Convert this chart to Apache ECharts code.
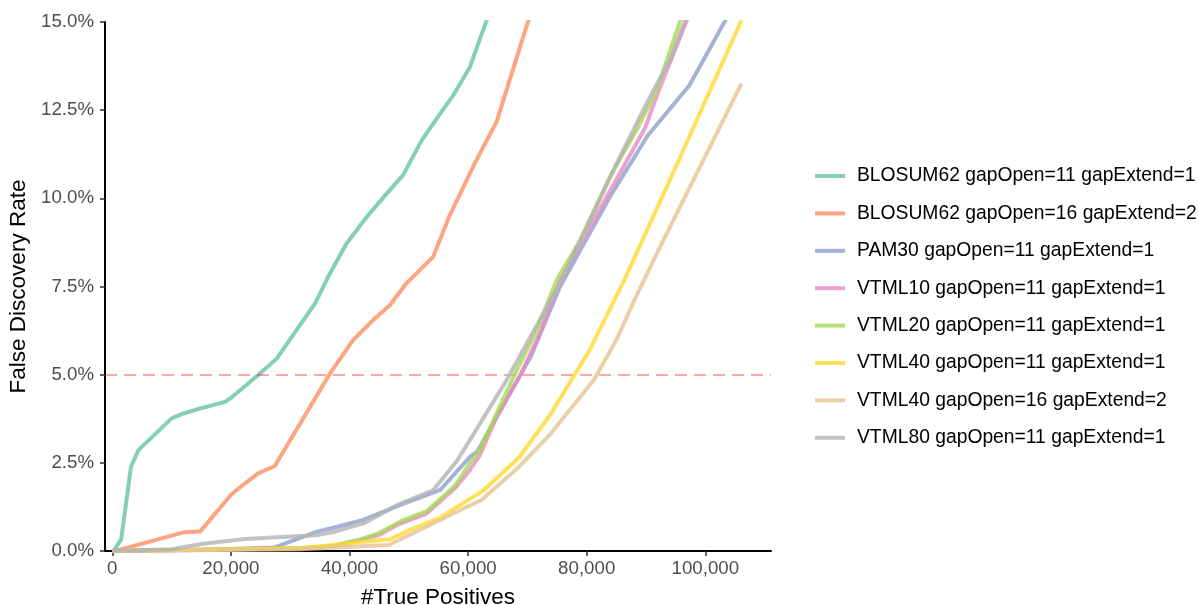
<!DOCTYPE html>
<html>
<head>
<meta charset="utf-8">
<script src="https://cdn.jsdelivr.net/npm/echarts@6/dist/echarts.min.js"></script>
<style>
  html, body { margin: 0; padding: 0; background: #fff; }
  #chart { width: 1199px; height: 605px; }
</style>
</head>
<body>
<div id="chart"></div>
<script>
// False discovery rate (%) against number of true positives, one curve per scoring setup.
// Each point is [true positives, FDR %].
const blosum62_o11_e1 = [[200,0],[1500,0.33],[3150,2.39],[4400,2.86],[10000,3.76],[12000,3.9],[14800,4.04],[19000,4.23],[20100,4.35],[24600,4.99],[27700,5.45],[34200,7.02],[36700,7.87],[39500,8.72],[42900,9.47],[46300,10.14],[49000,10.65],[52200,11.65],[55300,12.4],[57500,12.92],[60300,13.72],[64300,15.6]];
const blosum62_o16_e2 = [[500,0],[12000,0.53],[14800,0.55],[20100,1.61],[22400,1.92],[24600,2.2],[27400,2.41],[36700,5.03],[40600,5.98],[44000,6.55],[46800,6.97],[49600,7.59],[54100,8.34],[56900,9.52],[61400,11.08],[64800,12.17],[71200,15.6]];
const pam30_o11_e1 = [[0,0],[15000,0.03],[27400,0.1],[34500,0.55],[37300,0.66],[42300,0.88],[48500,1.3],[55300,1.73],[60300,2.67],[61500,2.81],[70600,5.52],[75500,7.49],[83900,10.04],[90300,11.78],[97300,13.2],[105200,15.6]];
const vtml10_o11_e1 = [[0,0],[31700,0.08],[37300,0.14],[41800,0.31],[44900,0.45],[48000,0.74],[52900,1.05],[57900,1.8],[60300,2.3],[62000,2.72],[64800,3.8],[68800,4.99],[71600,5.98],[75500,7.68],[89800,11.98],[92400,13.16],[98200,15.6]];
const vtml20_o11_e1 = [[0,0],[31700,0.08],[37300,0.15],[41800,0.33],[44900,0.5],[48500,0.83],[53000,1.13],[57800,1.85],[60300,2.49],[62000,2.86],[64800,3.9],[68200,5.13],[71600,6.26],[74900,7.68],[78900,8.81],[83900,10.61],[88400,11.93],[91800,13.06],[96900,15.6]];
const vtml40_o11_e1 = [[0,0],[31700,0.08],[46800,0.33],[50200,0.6],[55300,0.95],[62600,1.72],[68600,2.65],[73800,3.85],[80500,5.7],[86400,7.7],[95400,11.03],[106100,15.05]];
const vtml40_o16_e2 = [[0,0],[31700,0.05],[46600,0.17],[55300,0.88],[58500,1.15],[62300,1.45],[68600,2.39],[73800,3.3],[81200,4.85],[85000,5.98],[88000,7.1],[92100,8.53],[106100,13.25]];
const vtml80_o11_e1 = [[0,0],[10000,0.05],[15000,0.2],[22400,0.34],[27700,0.39],[34500,0.45],[37300,0.54],[42600,0.8],[48000,1.3],[54100,1.72],[58100,2.55],[60500,3.2],[66500,4.85],[75500,7.59],[78900,8.81],[85600,11.17],[90100,12.69],[94000,13.91],[97900,15.6]];

const seriesNames = [
  'BLOSUM62 gapOpen=11 gapExtend=1',
  'BLOSUM62 gapOpen=16 gapExtend=2',
  'PAM30 gapOpen=11 gapExtend=1',
  'VTML10 gapOpen=11 gapExtend=1',
  'VTML20 gapOpen=11 gapExtend=1',
  'VTML40 gapOpen=11 gapExtend=1',
  'VTML40 gapOpen=16 gapExtend=2',
  'VTML80 gapOpen=11 gapExtend=1'
];
const seriesData = [blosum62_o11_e1, blosum62_o16_e2, pam30_o11_e1, vtml10_o11_e1, vtml20_o11_e1, vtml40_o11_e1, vtml40_o16_e2, vtml80_o11_e1];
// Set2 palette at 80% opacity
const seriesColors = [
  'rgba(102,194,165,0.8)', 'rgba(252,141,98,0.8)', 'rgba(141,160,203,0.8)', 'rgba(231,138,195,0.8)',
  'rgba(166,216,84,0.8)', 'rgba(255,217,47,0.8)', 'rgba(229,196,148,0.8)', 'rgba(179,179,179,0.8)'
];

const xTicks = [0, 20000, 40000, 60000, 80000, 100000];
const xRange = [-1230, 111080];
const yRange = [0, 15];
const yStep = 2.5;
const fdrThreshold = 5;

const FONT = 'Liberation Sans, Arial, Helvetica, sans-serif';

const series = seriesNames.map((name, i) => ({
  name: name,
  type: 'line',
  data: seriesData[i],
  showSymbol: false,
  symbol: 'none',
  clip: true,
  color: seriesColors[i],
  lineStyle: { width: 4, color: seriesColors[i], join: 'round', cap: 'butt' },
  z: 2 + i
}));

// dashed threshold line at 5% FDR
series.push({
  name: 'threshold',
  type: 'line',
  data: [],
  silent: true,
  markLine: {
    silent: true,
    symbol: 'none',
    label: { show: false },
    lineStyle: { color: 'rgba(255,0,0,0.35)', type: [12, 7], width: 2 },
    data: [{ yAxis: fdrThreshold }]
  },
  z: 10
});

const chart = echarts.init(document.getElementById('chart'), null, { renderer: 'canvas' });
chart.setOption({
  animation: false,
  backgroundColor: '#ffffff',
  textStyle: { fontFamily: FONT },
  grid: { left: 105, top: 22, width: 666, height: 529, containLabel: false, outerBoundsMode: 'none' },
  xAxis: {
    type: 'value',
    min: xRange[0],
    max: xRange[1],
    name: '#True Positives',
    nameLocation: 'middle',
    nameGap: 35,
    nameTextStyle: { fontFamily: FONT, fontSize: 22.5, color: '#000' },
    axisLine: { show: true, onZero: false, lineStyle: { color: '#000', width: 2 } },
    axisTick: { show: true, length: 5, customValues: xTicks, lineStyle: { color: '#333', width: 1.5 } },
    axisLabel: {
      customValues: xTicks,
      fontFamily: FONT, fontSize: 18.7, color: '#4d4d4d', margin: 8,
      formatter: v => Number(v).toLocaleString('en-US')
    },
    splitLine: { show: false }
  },
  yAxis: {
    type: 'value',
    min: yRange[0],
    max: yRange[1],
    interval: yStep,
    name: 'False Discovery Rate',
    nameLocation: 'middle',
    nameGap: 66,
    nameTextStyle: { fontFamily: FONT, fontSize: 22.5, color: '#000' },
    axisLine: { show: true, onZero: false, lineStyle: { color: '#000', width: 2 } },
    axisTick: { show: true, length: 5, lineStyle: { color: '#333', width: 1.5 } },
    axisLabel: {
      fontFamily: FONT, fontSize: 18.7, color: '#4d4d4d', margin: 11,
      formatter: v => v.toFixed(1) + '%'
    },
    splitLine: { show: false }
  },
  legend: {
    data: seriesNames,
    orient: 'vertical',
    left: 810,
    top: 161,
    icon: 'rect',
    itemWidth: 30,
    itemHeight: 4,
    itemGap: 17.4,
    textStyle: { fontFamily: FONT, fontSize: 19.3, color: '#000', lineHeight: 20, padding: [0, 0, 0, 7] }
  },
  series: series
});
</script>
</body>
</html>
